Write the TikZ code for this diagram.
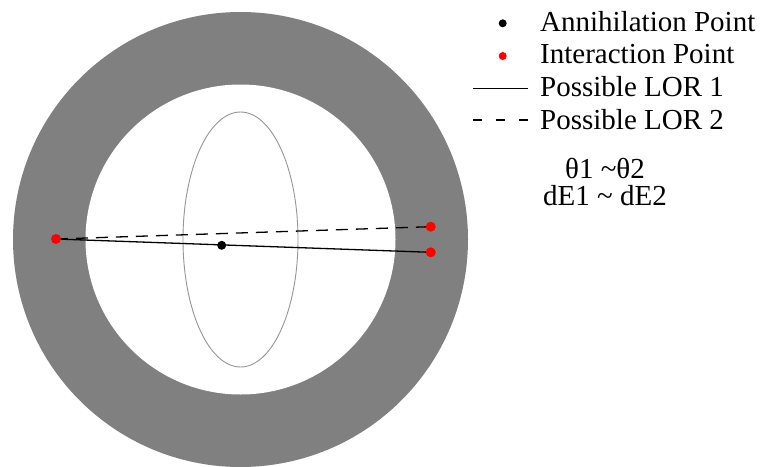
\documentclass[tikz,border=0pt]{standalone}
\usepackage{fontspec}
\setmainfont{Liberation Serif}
\definecolor{ringgray}{RGB}{128,128,128}
\definecolor{ellgray}{RGB}{150,150,150}
\begin{document}
\begin{tikzpicture}[x=1pt,y=-1pt,
  reddot/.style={circle,fill=red,inner sep=0pt,minimum size=10pt},
  blackdot/.style={circle,fill=black,inner sep=0pt,minimum size=9pt},
  legdot/.style={circle,inner sep=0pt,minimum size=8pt},
  lor/.style={line width=1.3pt,black},
  lordash/.style={lor,dash pattern=on 12pt off 8pt},
  legtext/.style={anchor=base west,inner sep=0pt,draw=white},
  eqtext/.style={anchor=base,inner sep=0pt,draw=white}]
\useasboundingbox (0,0) rectangle (763,466);
% texts
\node[legtext] (t1) at (540,31.7) {\fontsize{29}{32}\selectfont Annihilation Point};
\node[legtext] (t2) at (540,63.8) {\fontsize{29}{32}\selectfont Interaction Point};
\node[legtext] (t3) at (540,96.5) {\fontsize{29}{32}\selectfont Possible LOR 1};
\node[legtext] (t4) at (540,129) {\fontsize{29}{32}\selectfont Possible LOR 2};
\node[eqtext] (e1) at (605,178.3) {\fontsize{29}{32}\selectfont θ1 \symbol{"007E}θ2};
\node[eqtext] (e2) at (605,205) {\fontsize{29}{32}\selectfont dE1 \symbol{"007E} dE2};
% ring
\fill[ringgray] (240.5,239.5) circle[radius=227.5];
\fill[white] (240.5,239.5) circle[radius=155];
% ellipse
\draw[ellgray,line width=0.9pt] (240.5,239.5) ellipse[x radius=57.5,y radius=127.5];
% points
\coordinate (L) at (56,239);
\coordinate (R1) at (430.7,252.3);
\coordinate (R2) at (430.7,226.7);
\draw[lor] (L) -- (R1);
\draw[lordash] (L) -- (R2);
\node[reddot] (pL) at (L) {};
\node[reddot] (pR1) at (R1) {};
\node[reddot] (pR2) at (R2) {};
\node[blackdot] (A) at (221.7,245.3) {};
% legend
\node[legdot,fill=black] (k1) at (502.7,23.3) {};
\node[legdot,fill=red] (k2) at (502.7,56) {};
\coordinate (s1) at (472.7,88.3);
\coordinate (s2) at (528.3,88.3);
\draw[lor] (s1) -- (s2);
\coordinate (d1) at (472.7,120);
\coordinate (d2) at (528.3,120);
\draw[lor,dash pattern=on 9pt off 14pt] (d1) -- (d2);
\end{tikzpicture}
\end{document}
